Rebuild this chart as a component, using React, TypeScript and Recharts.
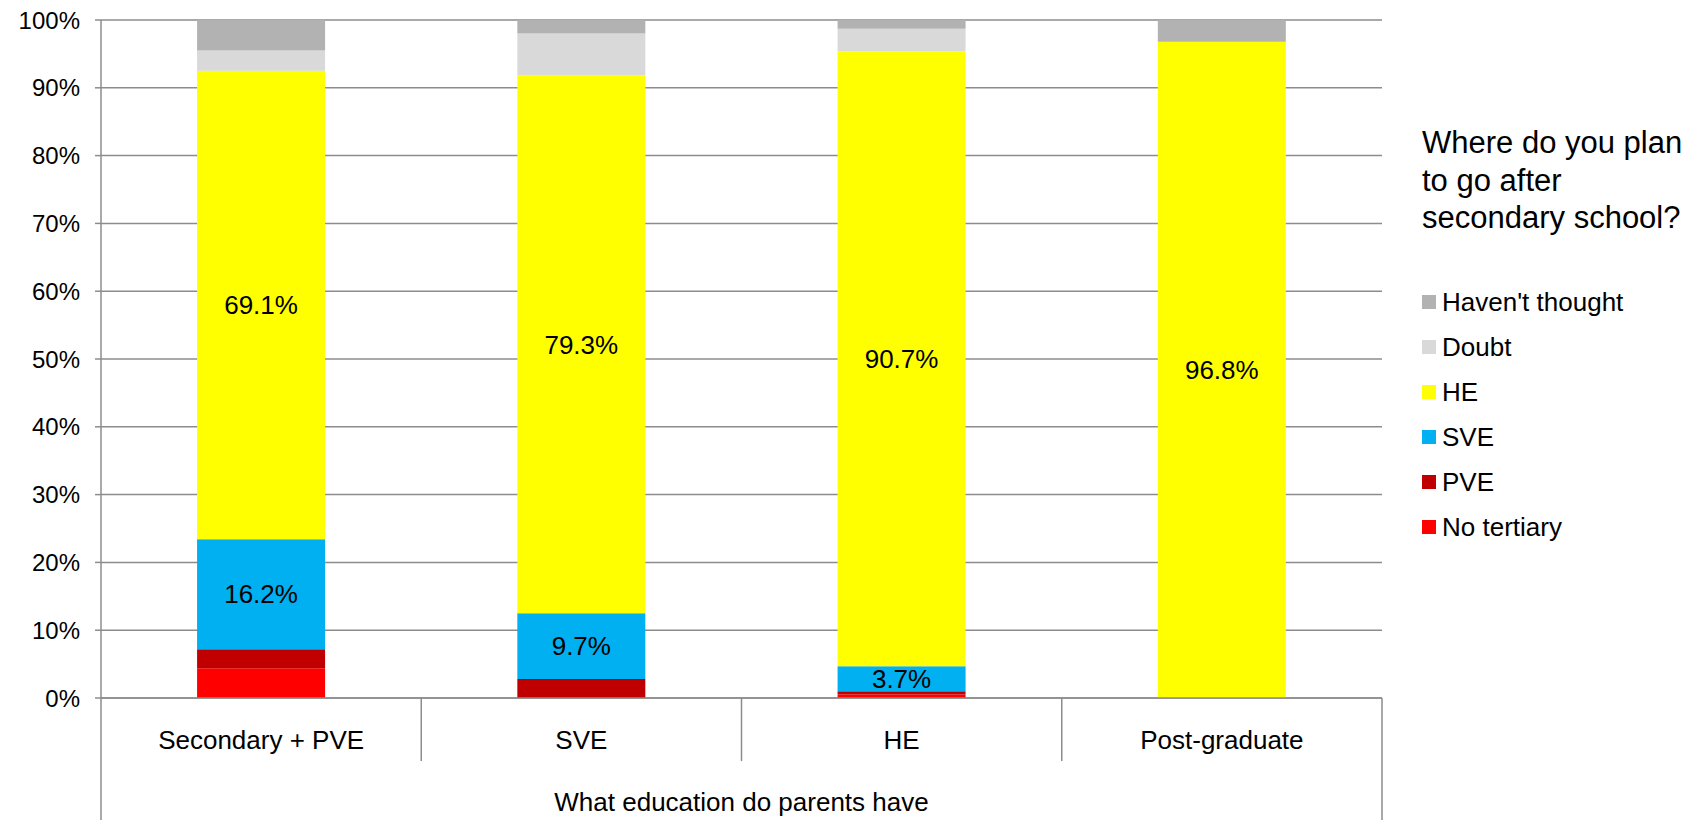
import React from "react";
import {
  BarChart,
  Bar,
  XAxis,
  YAxis,
  CartesianGrid,
  LabelList,
} from "recharts";

const categories = ["Secondary + PVE", "SVE", "HE", "Post-graduate"];
const noTertiary = [4.4, 0, 0.5, 0];
const pve = [2.8, 2.8, 0.5, 0];
const sve = [16.2, 9.7, 3.7, 0];
const he = [69.1, 79.3, 90.7, 96.8];
const doubt = [3.0, 6.2, 3.3, 0];
const havent = [4.5, 2.0, 1.3, 3.2];
const yTicks = [0, 10, 20, 30, 40, 50, 60, 70, 80, 90, 100];

const series = [
  { key: "noTertiary", name: "No tertiary", color: "#ff0000", values: noTertiary, label: false },
  { key: "pve", name: "PVE", color: "#c00000", values: pve, label: false },
  { key: "sve", name: "SVE", color: "#00b0f0", values: sve, label: true },
  { key: "he", name: "HE", color: "#ffff00", values: he, label: true },
  { key: "doubt", name: "Doubt", color: "#d9d9d9", values: doubt, label: false },
  { key: "havent", name: "Haven't thought", color: "#b2b2b2", values: havent, label: false },
];

const data = categories.map((cat, i) => {
  const row: any = { cat };
  series.forEach((s) => (row[s.key] = s.values[i]));
  return row;
});

const FONT = '"Liberation Sans", Arial, sans-serif';
const GRID = "#8c8c8c";
const W = 1702;
const H = 820;
const M = { top: 20, right: 320, bottom: 0, left: 0 };
const Y_W = 101;
const X_H = 122;
const bandW = (W - M.left - M.right - Y_W) / categories.length;

const CatTick = (props: any) => {
  const { x, y, payload, index } = props;
  const left = x - bandW / 2;
  const last = index === categories.length - 1;
  return (
    <g>
      <line x1={left} y1={y} x2={left} y2={index === 0 ? y + X_H : y + 63} stroke={GRID} strokeWidth={1.5} />
      {last && (
        <line x1={x + bandW / 2} y1={y} x2={x + bandW / 2} y2={y + X_H} stroke={GRID} strokeWidth={1.5} />
      )}
      <text x={x} y={y + 42} textAnchor="middle" dominantBaseline="central" fontSize={26} fill="#000">
        {payload.value}
      </text>
    </g>
  );
};

const LegendBox = () => (
  <div style={{ position: "absolute", left: 1422, top: 124, width: 280, color: "#000" }}>
    <div style={{ fontSize: 31, lineHeight: "37.5px" }}>
      Where do you plan
      <br />
      to go after
      <br />
      secondary school?
    </div>
    <div style={{ marginTop: 43 }}>
      {[...series].reverse().map((s) => (
        <div key={s.key} style={{ display: "flex", alignItems: "center", height: 45 }}>
          <span style={{ width: 14, height: 14, background: s.color, display: "inline-block", marginRight: 6 }} />
          <span style={{ fontSize: 26 }}>{s.name}</span>
        </div>
      ))}
    </div>
  </div>
);

export default function App() {
  return (
    <div style={{ position: "absolute", left: 0, top: 0, width: W, height: H, background: "#fff", fontFamily: FONT }}>
      <BarChart width={W} height={H} data={data} margin={M} barCategoryGap="30%">
        <CartesianGrid horizontal vertical={false} stroke={GRID} strokeWidth={1.5} />
        <XAxis
          dataKey="cat"
          height={X_H}
          axisLine={{ stroke: GRID, strokeWidth: 1.5 }}
          tickLine={false}
          tickSize={0}
          tickMargin={0}
          interval={0}
          tick={<CatTick />}
          label={{ value: "What education do parents have", position: "insideBottom", offset: 9, fontSize: 26, fill: "#000" }}
        />
        <YAxis
          width={Y_W}
          domain={[0, 100]}
          ticks={yTicks}
          interval={0}
          tickFormatter={(v: number) => `${v}%`}
          axisLine={{ stroke: GRID, strokeWidth: 1.5 }}
          tickLine={{ stroke: GRID, strokeWidth: 1.5 }}
          tickSize={6}
          tickMargin={15}
          tick={{ fontSize: 24, fill: "#000" }}
        />
        {series.map((s) => (
          <Bar key={s.key} dataKey={s.key} name={s.name} stackId="a" fill={s.color} isAnimationActive={false}>
            {s.label && (
              <LabelList
                dataKey={s.key}
                position="center"
                fill="#000"
                fontSize={26}
                formatter={(v: any) => (v > 0 ? `${Number(v).toFixed(1)}%` : "")}
              />
            )}
          </Bar>
        ))}
      </BarChart>
      <LegendBox />
    </div>
  );
}
